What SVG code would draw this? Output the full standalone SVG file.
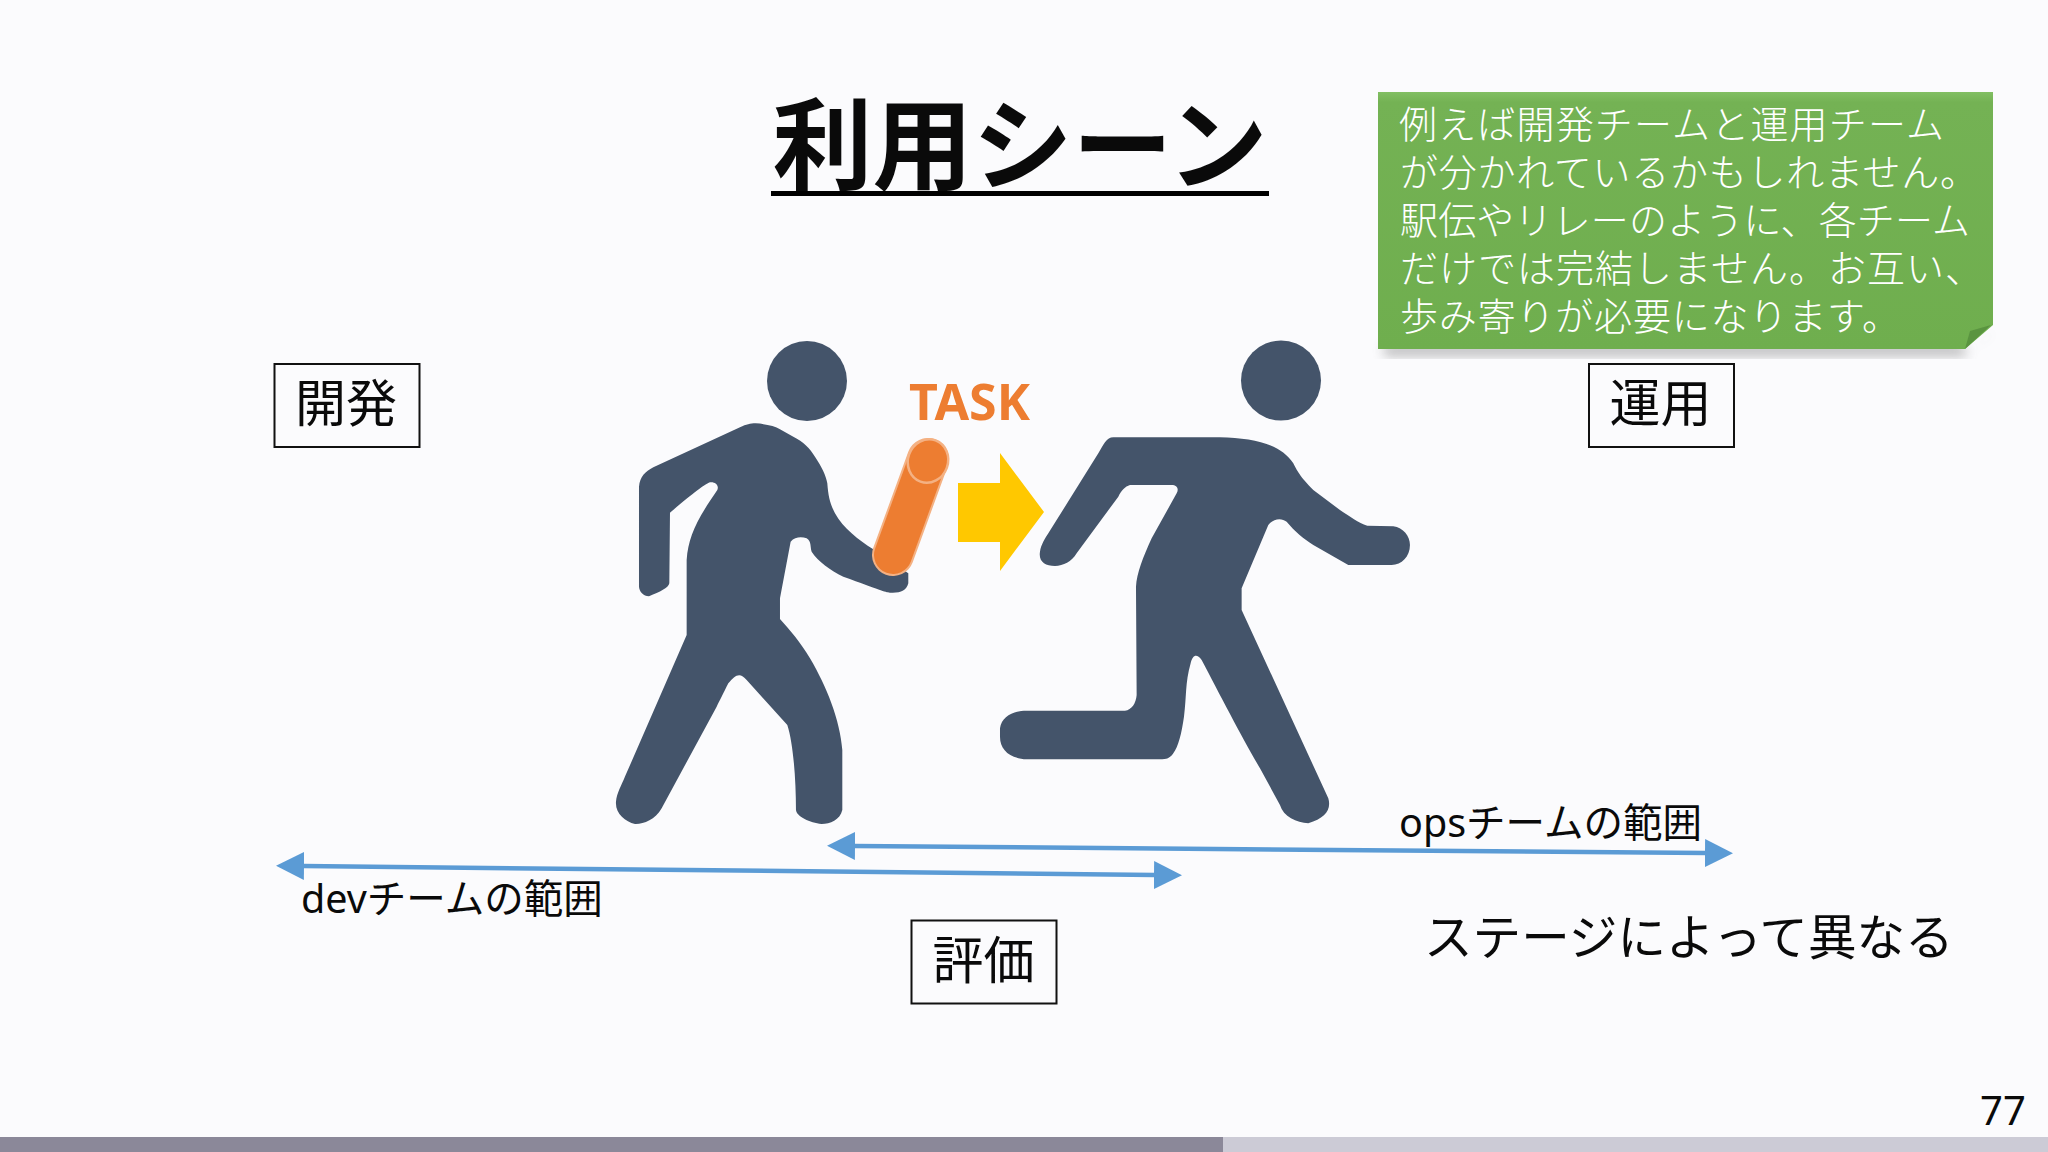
<svg xmlns="http://www.w3.org/2000/svg" width="2048" height="1152" viewBox="0 0 2048 1152">
<style>
text{font-family:"Noto Sans","Noto Sans CJK JP",sans-serif;fill:#0a0a0a}
.cjk{font-family:"Noto Sans CJK JP","Noto Sans",sans-serif}
.box{fill:none;stroke:#111;stroke-width:2}
.lab{font-size:51px;text-anchor:middle}
.rng{font-size:39.500px}
.note{font-size:38px;fill:#fff;font-weight:300}
.man{fill:#44546a}
.conn{stroke:#5b9bd5;stroke-width:4.5;fill:none;marker-start:url(#tri);marker-end:url(#tri)}
</style>
<defs>
<marker id="tri" markerUnits="userSpaceOnUse" markerWidth="30" markerHeight="30" refX="1" refY="15" orient="auto-start-reverse">
<path d="M0,1 L28,15 L0,29 Z" fill="#5b9bd5"/>
</marker>
<filter id="sh" x="-5%" y="-10%" width="110%" height="120%"><feGaussianBlur stdDeviation="6"/></filter>
<linearGradient id="gr" x1="0" y1="0" x2="0" y2="1"><stop offset="0" stop-color="#82bf63"/><stop offset="0.04" stop-color="#74b254"/><stop offset="1" stop-color="#6fae4e"/></linearGradient>
</defs>
<rect width="2048" height="1152" fill="#fbfbfd"/>

<g id="title">
<text x="1020" y="182" text-anchor="middle" class="cjk" font-size="100" font-weight="700" fill="#000">利用シーン</text>
<rect x="771" y="191" width="498" height="5" fill="#000"/>
</g>

<g id="person-dev" class="man">
<circle cx="807" cy="381" r="40"/>
<path transform="translate(580,320) scale(0.3333)" d="M527,310 C560,312 585,318 600,328 L640,350 C670,365 690,385 705,410 C725,440 738,465 742,490 C745,530 750,550 765,580 C790,625 835,660 880,688 L985,760 L985,790 C980,812 960,820 930,818 C915,816 900,810 790,770 C750,750 715,725 695,695 C690,680 695,665 680,655 C665,650 645,650 632,665 L600,835 L600,897 C630,930 660,965 690,1015 C740,1100 780,1200 787,1290 L787,1470 C780,1500 750,1512 725,1512 C690,1508 650,1490 648,1470 C648,1380 640,1270 622,1215 L500,1080 C480,1055 465,1065 445,1090 C430,1120 420,1140 410,1160 L245,1465 C225,1500 190,1513 165,1512 C135,1505 105,1480 108,1445 C110,1420 125,1395 135,1370 L320,945 L320,720 C325,650 350,600 412,510 C418,495 405,485 390,487 C370,495 340,520 270,578 L268,790 C265,805 240,815 207,829 C190,828 178,815 177,800 L177,500 C180,470 195,455 220,442 L480,322 C500,313 510,310 527,310 Z"/>
</g>

<g id="baton">
<line x1="928" y1="459" x2="893" y2="555" stroke="#f4b183" stroke-width="42" stroke-linecap="round"/>
<line x1="928" y1="459" x2="893" y2="555" stroke="#ed7d31" stroke-width="38" stroke-linecap="round"/>
<ellipse cx="928" cy="461" rx="20" ry="22" transform="rotate(20 928 461)" fill="#ed7d31" stroke="#f4b183" stroke-width="2.5"/>
</g>

<g id="task-label"><text x="909" y="420" font-size="51" font-weight="700" style="fill:#ed7d31" font-family="Open Sans" textLength="121" lengthAdjust="spacingAndGlyphs">TASK</text></g>

<g id="flow-arrow"><polygon points="958,483 1000,483 1000,453 1044,512 1000,571 1000,542 958,542" fill="#ffc800"/></g>

<g id="person-ops" class="man">
<circle cx="1281" cy="380.500" r="40"/>
<path transform="translate(960,320) scale(0.3333)" d="M460,352 L780,352 C880,355 960,370 1000,430 C1010,450 1020,470 1060,510 L1140,570 C1170,590 1195,608 1222,617 L1300,619 C1330,622 1350,650 1350,675 C1350,710 1325,735 1295,735 L1165,735 L1060,675 C1030,655 1005,635 980,605 C965,593 940,595 925,615 L845,805 L845,870 L1105,1435 C1115,1470 1095,1495 1045,1510 C1010,1508 970,1490 960,1455 L900,1345 C850,1260 780,1125 725,1020 C710,1000 698,1005 692,1030 C675,1090 680,1130 672,1190 C665,1240 655,1280 640,1300 C630,1315 620,1318 600,1318 L200,1318 C150,1315 120,1290 120,1250 L120,1225 C125,1190 160,1172 200,1172 L495,1172 C515,1170 528,1150 530,1125 L528,800 C530,760 550,710 575,655 L650,520 C658,505 650,495 635,495 L510,495 C495,500 485,510 475,530 L350,700 C335,725 310,738 285,738 C255,738 235,725 240,695 C243,675 255,655 265,640 L415,400 C430,375 440,352 460,352 Z"/>
</g>

<g id="note">
<polygon points="1384,345 1962,345 1968,356 1996,330 1990,335 1968,356 1384,356" fill="#555" opacity="0.4" filter="url(#sh)"/>
<polygon points="1378,92 1993,92 1993,325 1965,349 1378,349" fill="url(#gr)"/>
<polygon points="1991,325 1965,349 1970,331" fill="#5a9440"/>
<text class="note cjk" x="1399" y="138" textLength="545">例えば開発チームと運用チーム</text>
<text class="note cjk" x="1400" y="186" textLength="578">が分かれているかもしれません。</text>
<text class="note cjk" x="1400" y="234" textLength="570">駅伝やリレーのように、各チーム</text>
<text class="note cjk" x="1400" y="282" textLength="583">だけでは完結しません。お互い、</text>
<text class="note cjk" x="1400" y="330" textLength="500">歩み寄りが必要になります。</text>
</g>

<g id="stage-dev"><rect class="box" x="274.500" y="364" width="145" height="83"/><text class="lab cjk" x="346" y="422">開発</text></g>
<g id="stage-ops"><rect class="box" x="1589" y="364" width="145" height="83"/><text class="lab cjk" x="1660.500" y="422">運用</text></g>
<g id="stage-eval"><rect class="box" x="911.500" y="920.500" width="145" height="83"/><text class="lab cjk" x="983.500" y="979">評価</text></g>

<g id="connectors">
<line class="conn" x1="303" y1="866" x2="1155" y2="875"/>
<line class="conn" x1="854" y1="846" x2="1706" y2="853"/>
</g>

<g id="dev-range"><text class="rng" x="301" y="913">devチームの範囲</text></g>
<g id="ops-range"><text class="rng" x="1399" y="837">opsチームの範囲</text></g>
<g id="stage-note"><text class="cjk" x="1424" y="955" font-size="48.600">ステージによって異なる</text></g>

<g id="progress">
<rect x="0" y="1137" width="1223" height="15" fill="#8b8899"/>
<rect x="1223" y="1137" width="825" height="15" fill="#cccbd6"/>
</g>
<g id="page-number"><text x="1980" y="1125" font-size="40">77</text></g>
</svg>
